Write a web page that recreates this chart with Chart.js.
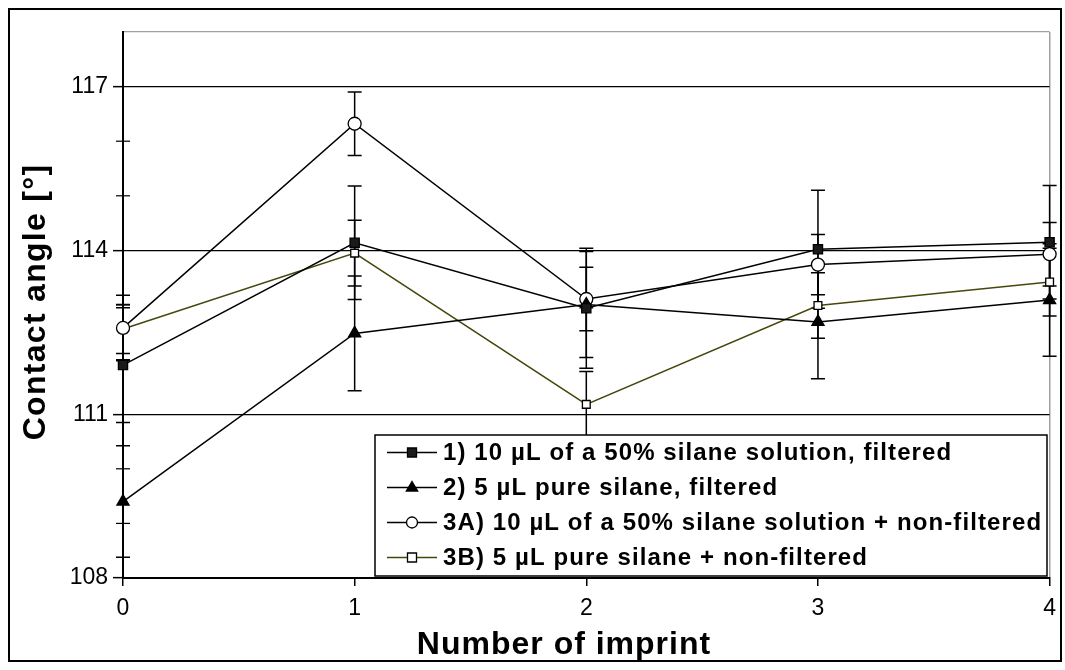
<!DOCTYPE html>
<html>
<head>
<meta charset="utf-8">
<title>Contact angle vs number of imprint</title>
<script src="https://cdn.jsdelivr.net/npm/chart.js@4"></script>
<style>
  html, body { margin: 0; padding: 0; background: #fff; }
  #wrap { width: 1065px; height: 670px; }
</style>
</head>
<body>
<div id="wrap"><canvas id="chart" width="1065" height="670"></canvas></div>
<script>
(() => {
  "use strict";

  // number of imprint (x) and labelled y ticks
  const imprints = [0, 1, 2, 3, 4];
  const yTickLabels = [108, 111, 114, 117];

  const xTitle = "Number of imprint";
  const yTitle = "Contact angle [\u00b0]";

  const seriesNames = [
    "1) 10 \u00b5L of a 50% silane solution, filtered",
    "2) 5 \u00b5L pure silane, filtered",
    "3A) 10 \u00b5L of a 50% silane solution + non-filtered",
    "3B) 5 \u00b5L pure silane + non-filtered"
  ];

  // contact angle [deg] and error (+/-)
  const filtered50 = [111.9, 114.14, 112.94, 114.02, 114.15];
  const filtered50Err = [1.05, 1.04, 1.1, 1.08, 1.04];

  const filteredPure = [109.4, 112.48, 113.01, 112.69, 113.09];
  const filteredPureErr = [1.02, 1.05, 0.97, 1.04, 1.03];

  const nonFiltered50 = [112.58, 116.32, 113.11, 113.74, 113.93];
  const nonFiltered50Err = [0.6, 0.58, 0.58, 0.55, 0.58];

  const nonFilteredPure = [112.56, 113.95, 111.18, 112.99, 113.42];
  const nonFilteredPureErr = [0.45, 0.6, 0.6, 0.6, 0.62];

  const FONT = "Arial, 'Liberation Sans', Helvetica, sans-serif";
  const OLIVE = "#47470c";

  function points(values) {
    return imprints.map((x, i) => ({ x, y: values[i] }));
  }

  function makeSet(label, values, errors, style) {
    return Object.assign({
      label,
      data: points(values),
      errors,
      borderWidth: 1.5,
      tension: 0,
      clip: false,
      pointBorderWidth: 1.3,
      pointBorderColor: "#000",
      pointRadius: 7,
      pointHoverRadius: 7
    }, style);
  }

  const datasets = [
    makeSet(seriesNames[0], filtered50, filtered50Err, {
      borderColor: "#000", pointStyle: "rect", pointBackgroundColor: "#1a1a1a", pointRadius: 6.5
    }),
    makeSet(seriesNames[1], filteredPure, filteredPureErr, {
      borderColor: "#000", pointStyle: "triangle", pointBackgroundColor: "#000", pointRadius: 7
    }),
    makeSet(seriesNames[2], nonFiltered50, nonFiltered50Err, {
      borderColor: "#000", pointStyle: "circle", pointBackgroundColor: "#fff", pointRadius: 6.5
    }),
    makeSet(seriesNames[3], nonFilteredPure, nonFilteredPureErr, {
      borderColor: OLIVE, pointStyle: "rect", pointBackgroundColor: "#fff", pointRadius: 5.5
    })
  ];

  // vertical error bars with caps, drawn through the scales
  const errorBars = {
    id: "errorBars",
    beforeDatasetsDraw(chart) {
      const { ctx, scales: { x, y } } = chart;
      ctx.save();
      ctx.strokeStyle = "#000";
      ctx.lineWidth = 1.5;
      chart.data.datasets.forEach(ds => {
        ds.data.forEach((p, j) => {
          const e = ds.errors[j];
          const px = x.getPixelForValue(p.x);
          const top = y.getPixelForValue(p.y + e);
          const bot = y.getPixelForValue(p.y - e);
          ctx.beginPath();
          ctx.moveTo(px, top); ctx.lineTo(px, bot);
          ctx.moveTo(px - 7, top); ctx.lineTo(px + 7, top);
          ctx.moveTo(px - 7, bot); ctx.lineTo(px + 7, bot);
          ctx.stroke();
        });
      });

      // minor y ticks cross the axis line
      const ax = chart.chartArea.left;
      ctx.lineWidth = 1.2;
      y.ticks.forEach(t => {
        if (yTickLabels.includes(t.value) || t.value === y.max) return;
        const py = y.getPixelForValue(t.value);
        ctx.beginPath();
        ctx.moveTo(ax - 7, py); ctx.lineTo(ax + 7, py);
        ctx.stroke();
      });
      ctx.restore();
    }
  };

  function drawMarker(ctx, style, cx, cy, r, fill, stroke) {
    ctx.fillStyle = fill;
    ctx.strokeStyle = stroke;
    ctx.lineWidth = 1.3;
    ctx.beginPath();
    if (style === "circle") {
      ctx.arc(cx, cy, r, 0, Math.PI * 2);
    } else if (style === "triangle") {
      ctx.moveTo(cx, cy - r);
      ctx.lineTo(cx + r * 0.95, cy + r * 0.6);
      ctx.lineTo(cx - r * 0.95, cy + r * 0.6);
      ctx.closePath();
    } else {
      const s = r * 0.75;
      ctx.rect(cx - s, cy - s, s * 2, s * 2);
    }
    ctx.fill();
    ctx.stroke();
  }

  function spacing(ctx, px) {
    if ("letterSpacing" in ctx) ctx.letterSpacing = px + "px";
  }

  // axis titles, boxed legend inside the plot, outer frame
  const decorations = {
    id: "decorations",
    afterDraw(chart) {
      const { ctx } = chart;
      ctx.save();
      ctx.fillStyle = "#000";
      ctx.textAlign = "center";
      ctx.textBaseline = "alphabetic";
      ctx.font = "bold 32px " + FONT;

      spacing(ctx, 1);
      ctx.fillText(xTitle, 564, 654);

      spacing(ctx, 1.3);
      ctx.save();
      ctx.translate(45, 302);
      ctx.rotate(-Math.PI / 2);
      ctx.fillText(yTitle, 0, 0);
      ctx.restore();

      // legend
      const left = 375, top = 435, right = 1047, bottom = 576;
      ctx.fillStyle = "#fff";
      ctx.fillRect(left, top, right - left, bottom - top);
      ctx.strokeStyle = "#000";
      ctx.lineWidth = 1.5;
      ctx.strokeRect(left, top, right - left, bottom - top);

      ctx.font = "bold 24px " + FONT;
      spacing(ctx, 1.1);
      ctx.textBaseline = "middle";
      ctx.textAlign = "left";
      chart.data.datasets.forEach((ds, i) => {
        const cy = top + 17.5 + i * 35;
        ctx.strokeStyle = ds.borderColor;
        ctx.lineWidth = 1.5;
        ctx.beginPath();
        ctx.moveTo(387, cy); ctx.lineTo(437, cy);
        ctx.stroke();
        drawMarker(ctx, ds.pointStyle, 412, cy, ds.pointStyle === "circle" ? 5.5 : 6,
          ds.pointBackgroundColor, "#000");
        ctx.fillStyle = "#000";
        ctx.fillText(ds.label, 443, cy + 1);
      });
      spacing(ctx, 0);

      ctx.strokeStyle = "#000";
      ctx.lineWidth = 2;
      ctx.strokeRect(9, 9, 1052, 652);
      ctx.restore();
    }
  };

  const tickFont = { family: FONT, size: 23 };

  new Chart(document.getElementById("chart"), {
    type: "line",
    data: { datasets },
    plugins: [errorBars, decorations],
    options: {
      responsive: false,
      animation: false,
      layout: { padding: { top: 32, right: 14, left: 0, bottom: 0 } },
      plugins: {
        legend: { display: false },
        tooltip: { enabled: false }
      },
      scales: {
        x: {
          type: "linear",
          min: 0,
          max: 4,
          afterFit(scale) { scale.height = 92; },
          ticks: { stepSize: 1, color: "#000", font: tickFont, padding: 9, maxRotation: 0 },
          grid: {
            color: ctx => (ctx.tick && ctx.tick.value === 4 ? "#a0a0a0" : "rgba(0,0,0,0)"),
            lineWidth: 1.5,
            tickColor: "#000",
            tickLength: 8,
            tickWidth: 1.5
          },
          border: { color: "#000", width: 2 }
        },
        y: {
          min: 108,
          max: 118,
          afterFit(scale) { scale.width = 123; },
          ticks: {
            stepSize: 1,
            color: "#000",
            font: tickFont,
            padding: 5,
            callback: v => (yTickLabels.includes(v) ? String(v) : "")
          },
          grid: {
            color: ctx => {
              const v = ctx.tick && ctx.tick.value;
              if (v === 118) return "#a0a0a0";
              if (v === 108) return "rgba(0,0,0,0)";
              return yTickLabels.includes(v) ? "#000" : "rgba(0,0,0,0)";
            },
            lineWidth: 1.3,
            tickColor: ctx => (yTickLabels.includes(ctx.tick && ctx.tick.value) ? "#000" : "rgba(0,0,0,0)"),
            tickLength: 10,
            tickWidth: 1.5
          },
          border: { color: "#000", width: 2 }
        }
      }
    }
  });
})();
</script>
</body>
</html>
